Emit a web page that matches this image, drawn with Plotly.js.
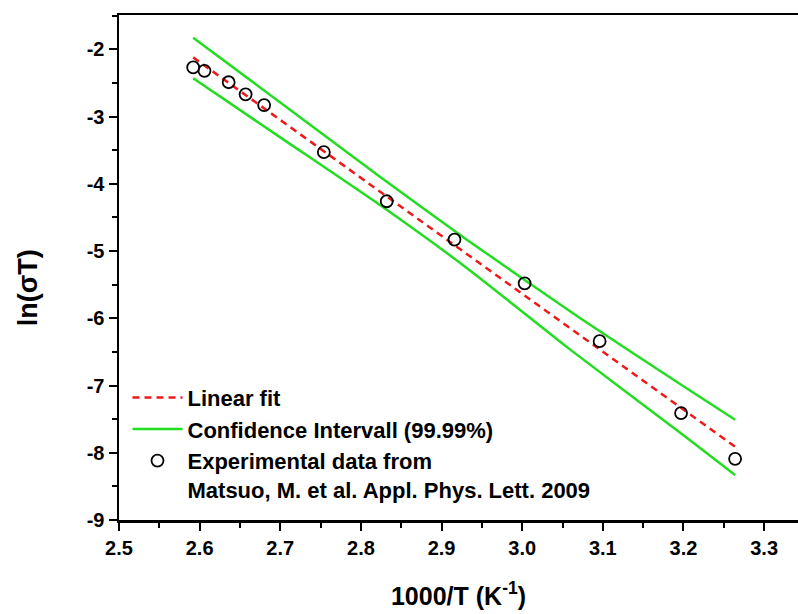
<!DOCTYPE html>
<html>
<head>
<meta charset="utf-8">
<script src="https://cdn.plot.ly/plotly-3.0.1.min.js"></script>
<style>
  html, body { margin: 0; padding: 0; background: #ffffff; }
  #chart { width: 798px; height: 614px; }
</style>
</head>
<body>
<div id="chart"></div>
<script>
// Experimental data (Matsuo et al., APL 2009)
const expX = [2.592, 2.606, 2.636, 2.657, 2.680, 2.754, 2.832, 2.916, 3.003, 3.096, 3.197, 3.264];
const expY = [-2.27, -2.32, -2.49, -2.67, -2.83, -3.53, -4.26, -4.83, -5.48, -6.34, -7.41, -8.09];

// Linear fit
const fitX = [2.592, 3.264];
const fitY = [-2.12, -7.91];

// Confidence interval (99.99%)
const upperX = [2.592, 2.700, 2.824, 2.930, 3.072, 3.200, 3.264];
const upperY = [-1.83, -2.79, -3.90, -4.82, -6.00, -7.01, -7.51];
const lowerX = [2.592, 2.700, 2.824, 2.930, 3.060, 3.200, 3.264];
const lowerY = [-2.43, -3.31, -4.32, -5.24, -6.47, -7.74, -8.33];

const xTicks = [2.5, 2.6, 2.7, 2.8, 2.9, 3.0, 3.1, 3.2, 3.3];
const xTickText = ['2.5', '2.6', '2.7', '2.8', '2.9', '3.0', '3.1', '3.2', '3.3'];
const yTicks = [-9, -8, -7, -6, -5, -4, -3, -2];
const yTickText = ['-9', '-8', '-7', '-6', '-5', '-4', '-3', '-2'];

const FONT = 'Liberation Sans, Arial, Helvetica, sans-serif';
const GREEN = '#22dd22';
const RED = '#ee1a1a';

const bold = s => '<b>' + s + '</b>';
const tickLabel = s => '<span style="font-size:20px;font-weight:bold">' + s + '</span>';

const traces = [
  {
    x: fitX, y: fitY, type: 'scatter', mode: 'lines',
    name: 'Linear fit',
    line: { color: RED, width: 2.5, dash: '7px,5px' }
  },
  {
    x: upperX, y: upperY, type: 'scatter', mode: 'lines',
    name: 'Confidence Intervall (99.99%)',
    legendgroup: 'ci',
    line: { color: GREEN, width: 2.5, shape: 'spline', smoothing: 0.6 }
  },
  {
    x: lowerX, y: lowerY, type: 'scatter', mode: 'lines',
    name: 'Confidence Intervall (99.99%)',
    legendgroup: 'ci', showlegend: false,
    line: { color: GREEN, width: 2.5, shape: 'spline', smoothing: 0.6 }
  },
  {
    x: expX, y: expY, type: 'scatter', mode: 'markers',
    name: 'Experimental data from<br>Matsuo, M. et al. Appl. Phys. Lett. 2009',
    marker: { symbol: 'circle-open', size: 12, color: '#000000', line: { color: '#000000', width: 1.8 } }
  }
];

const tickFont = { family: FONT, size: 20, color: '#000000' };

const layout = {
  width: 798, height: 614,
  margin: { l: 119, r: 0, t: 15, b: 94, pad: 0 },
  paper_bgcolor: '#ffffff', plot_bgcolor: '#ffffff',
  font: { family: FONT, size: 20, color: '#000000' },
  showlegend: true,
  legend: {
    x: 0.0125, y: 0.284, xanchor: 'left', yanchor: 'top',
    bgcolor: 'rgba(0,0,0,0)', borderwidth: 0,
    font: { family: FONT, size: 22, color: '#000000', weight: 'bold' },
    valign: 'top', itemwidth: 50, traceorder: 'normal'
  },
  xaxis: {
    range: [2.5, 3.342], autorange: false,
    tickmode: 'array', tickvals: xTicks, ticktext: xTickText.map(tickLabel),
    ticks: 'outside', ticklen: 8, tickwidth: 2, tickcolor: '#000000',
    showline: true, linewidth: 2.5, linecolor: '#000000', mirror: true,
    showgrid: false, zeroline: false,
    tickfont: tickFont,
    minor: { ticks: 'outside', ticklen: 5, tickwidth: 2, tickcolor: '#000000', dtick: 0.05, tick0: 2.5, showgrid: false },
    title: { text: bold('1000/T (K<sup>-1</sup>)'), font: { family: FONT, size: 25, color: '#000000' }, standoff: 30 },
    automargin: false
  },
  yaxis: {
    range: [-9, -1.49], autorange: false,
    tickmode: 'array', tickvals: yTicks, ticktext: yTickText.map(tickLabel),
    ticks: 'outside', ticklen: 8, tickwidth: 2, tickcolor: '#000000',
    showline: true, linewidth: 2.5, linecolor: '#000000', mirror: false,
    showgrid: false, zeroline: false,
    tickfont: tickFont,
    minor: { ticks: 'outside', ticklen: 5, tickwidth: 2, tickcolor: '#000000', dtick: 0.5, tick0: -9, showgrid: false },
    automargin: false
  },
  annotations: [
    {
      text: bold('ln(σT)'), textangle: -90, showarrow: false,
      xref: 'paper', yref: 'paper', x: -0.134, y: 0.459,
      xanchor: 'center', yanchor: 'middle',
      font: { family: FONT, size: 27, color: '#000000' }
    }
  ]
};

Plotly.newPlot('chart', traces, layout, { displayModeBar: false, staticPlot: true });
</script>
</body>
</html>
